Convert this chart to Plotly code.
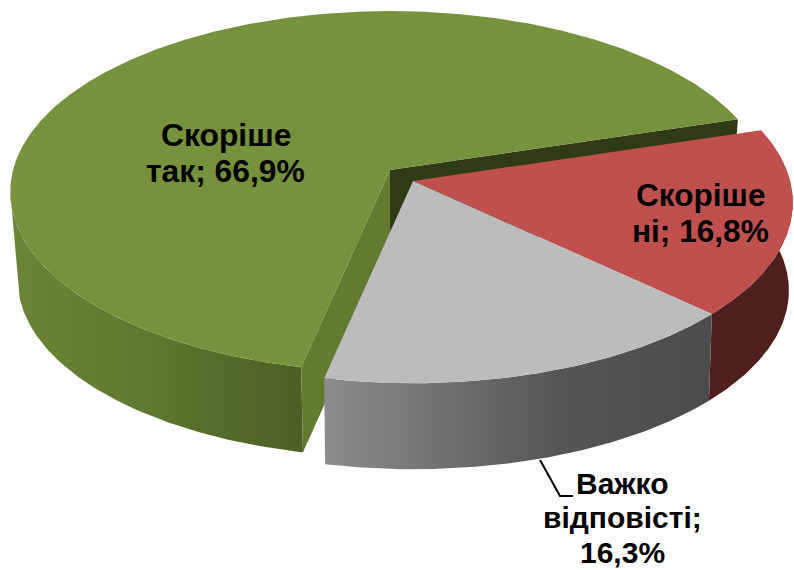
import numpy as np
import plotly.graph_objects as go

categories = ["Скоріше так", "Скоріше ні", "Важко відповісті"]
values = [66.9, 16.8, 16.3]
label_lines = [["Скоріше", "так; {}%"], ["Скоріше", "ні; {}%"], ["Важко", "відповісті;", "{}%"]]
label_sizes = [31.8, 31.6, 30]
top_colors = ["#76923c", "#c0504d", "#bcbcbc"]

# projection of the tilted disc into the page
W, H = 794, 570
A, B, K = 377.0, 178.0, 0.12
DEPTH, SHRINK_GREEN, SHRINK_OUT = 89.0, 0.98, 0.99
START = 192.0
GREEN_C = (390.0, 170.0)
EXPLODED_C = (413.0, 181.0)


def project(theta, center, lower=False):
    t = np.radians(theta)
    X, Y = np.sin(t), np.cos(t)
    d = 1 + K * Y
    dx, dy = A * X / d, -B * Y / d
    if lower:
        s = SHRINK_GREEN if center == GREEN_C else SHRINK_OUT
        depth = DEPTH if center == GREEN_C else DEPTH - 1
        return center[0] + s * dx, center[1] + depth + s * dy
    return center[0] + dx, center[1] + dy


def rim(a0, a1, center, lower=False):
    th = np.linspace(a0, a1, max(int(abs(a1 - a0)) * 2, 3))
    return project(th, center, lower)


total = sum(values)
spans = [v / total * 360 for v in values]
edges = [START]
for s in spans:
    edges.append(edges[-1] + s)
g0, g1 = edges[0], edges[1]
r0, r1 = edges[1], edges[2]
y0, y1 = edges[2], edges[3]

fig = go.Figure()


def poly(xs, ys, color=None, grad=None):
    kw = dict(x=np.asarray(xs).tolist(), y=np.asarray(ys).tolist(), mode="lines", fill="toself",
              line=dict(width=0), hoverinfo="skip", showlegend=False)
    if grad:
        kw["fillgradient"] = dict(type="horizontal", colorscale=grad[0], start=grad[1], stop=grad[2])
    else:
        kw["fillcolor"] = color
    fig.add_trace(go.Scatter(**kw))


def wall(a0, a1, center, color=None, grad=None):
    tx, ty = rim(a0, a1, center)
    bx, by = rim(a1, a0, center, True)
    poly(np.r_[tx, bx], np.r_[ty, by], color, grad)


def cut(theta, center, color):
    px, py = project(theta, center)
    qx, qy = project(theta, center, True)
    poly([center[0], px, qx, center[0]], [center[1], py, qy, center[1] + DEPTH], color)


def top(a0, a1, center, color):
    tx, ty = rim(a0, a1, center)
    poly(np.r_[center[0], tx], np.r_[center[1], ty], color)


# green slice
wall(g0, 263, GREEN_C, grad=([[0, "#6b8436"], [0.5, "#5e762e"], [1, "#4c6023"]], 10, 300))
cut(g0, GREEN_C, "#637a31")
cut(g1, GREEN_C, "#2f3a16")
top(g0, g1, GREEN_C, top_colors[0])
# red slice
wall(r0, r1, EXPLODED_C, color="#4f1f1e")
# grey slice
wall(y0, y1, EXPLODED_C, grad=([[0, "#8c8c8c"], [0.6, "#555555"], [1, "#4c4c4c"]], 325, 715))
top(r0, r1, EXPLODED_C, top_colors[1])
top(y0, y1, EXPLODED_C, top_colors[2])

# leader line of the outside label
fig.add_trace(go.Scatter(x=[540, 560, 573], y=[460, 496, 496], mode="lines",
                         line=dict(color="black", width=2), hoverinfo="skip", showlegend=False))

label_pos = [(225.5, [135, 171]), (700.5, [195, 231]), (622, [483, 517.5, 552])]
for v, lines, (lx, lys), size in zip(values, label_lines, label_pos, label_sizes):
    txt = f"{v:.1f}".replace(".", ",")
    for line, ly in zip(lines, lys):
        fig.add_annotation(x=lx, y=ly, xref="x", yref="y", text=f"<b>{line.format(txt)}</b>", showarrow=False,
                           xanchor="center", yanchor="middle",
                           font=dict(family="Liberation Sans", size=size, color="black"))

fig.update_layout(width=W, height=H, margin=dict(l=0, r=0, t=0, b=0), showlegend=False,
                  paper_bgcolor="white", plot_bgcolor="white",
                  xaxis=dict(range=[0, W], visible=False, fixedrange=True),
                  yaxis=dict(range=[H, 0], visible=False, fixedrange=True))
fig.write_html("out.html", config={"displayModeBar": False},
               post_script="document.body.style.margin='0';document.documentElement.style.overflow='hidden';")
